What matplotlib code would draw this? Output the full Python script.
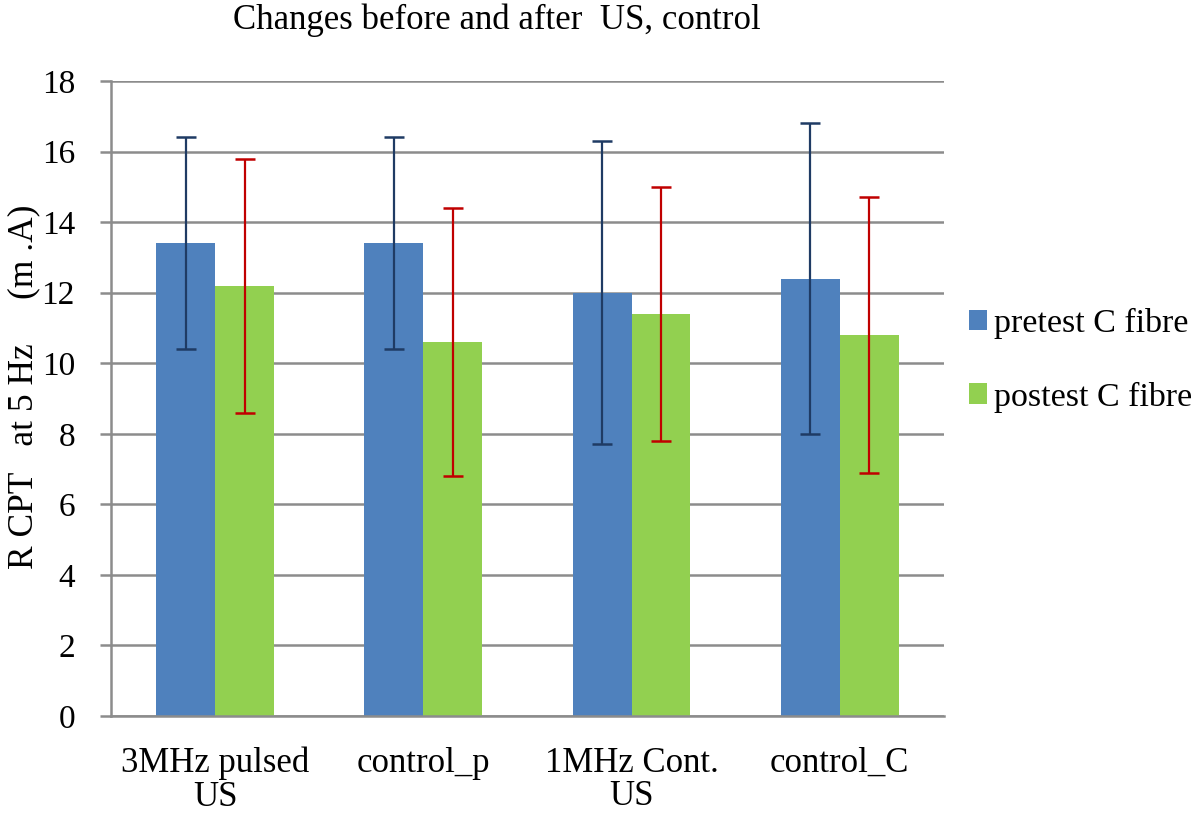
import matplotlib
matplotlib.use("Agg")
import matplotlib.pyplot as plt
import numpy as np

categories = ["3MHz pulsed\nUS", "control_p", "1MHz Cont.\nUS", "control_C"]
pretest = [13.4, 13.4, 12.0, 12.4]
pretest_err = [3.0, 3.0, 4.3, 4.4]
postest = [12.2, 10.6, 11.4, 10.8]
postest_err = [3.6, 3.8, 3.6, 3.9]
series_names = ["pretest C fibre", "postest C fibre"]
yticks = [0, 2, 4, 6, 8, 10, 12, 14, 16, 18]

plt.rcParams["font.family"] = ["Liberation Serif", "DejaVu Serif"]
FS = 25
GRID = "#8c8c8c"

fig = plt.figure(figsize=(12, 8.17), dpi=100)
ax = fig.add_axes([0.0925, 0.1236, 0.694, 0.7773])

x = np.arange(len(categories))
w = 0.283
ax.bar(x - w / 2, pretest, w, color="#4f81bd", label=series_names[0], zorder=2)
ax.bar(x + w / 2, postest, w, color="#92d050", label=series_names[1], zorder=2)
ax.errorbar(x - w / 2, pretest, yerr=pretest_err, fmt="none", ecolor="#1f3b64",
            elinewidth=1.6, capsize=7, capthick=1.8, zorder=3)
ax.errorbar(x + w / 2, postest, yerr=postest_err, fmt="none", ecolor="#c00000",
            elinewidth=1.6, capsize=7, capthick=1.8, zorder=3)

ax.set_xlim(-0.5, len(categories) - 0.5)
ax.set_ylim(0, 18)
ax.set_yticks(yticks)
ax.set_yticklabels([str(t) for t in yticks], fontsize=24)
ax.set_xticks(x)
ax.set_xticklabels(categories, fontsize=FS, linespacing=1.02)
ax.tick_params(axis="x", length=0, pad=22)
ax.tick_params(axis="y", length=8, width=1.8, color=GRID, pad=18)
ax.yaxis.grid(True, color=GRID, linewidth=1.8, zorder=0)
ax.set_axisbelow(True)
for s in ["top", "right"]:
    ax.spines[s].set_visible(False)
ax.spines["left"].set_color(GRID)
ax.spines["left"].set_linewidth(1.8)
ax.spines["bottom"].set_color(GRID)
ax.spines["bottom"].set_linewidth(1.8)

fig.text(0.414, 0.975, "Changes before and after  US, control", fontsize=FS,
         ha="center", va="center")
fig.text(0.02, 0.526, "R CPT   at 5 Hz     (m .A)", fontsize=25.5, rotation=90,
         ha="center", va="center")

ax.legend(loc="center left", bbox_to_anchor=(1.0, 0.56), frameon=False,
          fontsize=24.5, handlelength=0.55, handleheight=0.55, handletextpad=0.2,
          labelspacing=1.25, borderaxespad=0.33)

fig.savefig("out.png", dpi=100)
